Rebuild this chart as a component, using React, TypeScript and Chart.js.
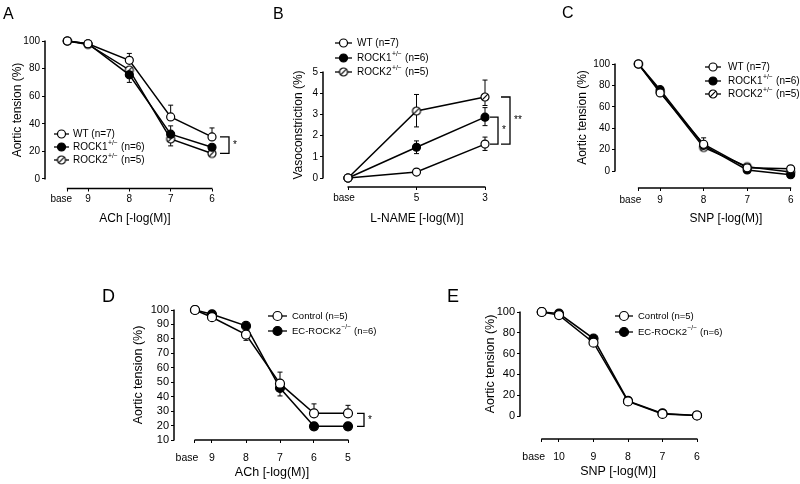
import React, { useEffect, useRef } from 'react';
import { Chart, registerables } from 'chart.js';

Chart.register(...registerables);

const FONT = "'Liberation Sans', Arial, Helvetica, sans-serif";
Chart.defaults.font.family = FONT;
Chart.defaults.color = '#000';

// ---------------- DATA ----------------
// Panel A: ACh, Aortic tension (%)
const aX = [9.5, 9, 8, 7, 6];
const aXLabels = ['base', '9', '8', '7', '6'];
const aYTicks = [0, 20, 40, 60, 80, 100];
const aWT = [100, 98, 86, 45, 30.5];
const aWTUp = [0, 0, 5, 8.5, 6.5];
const aWTDn = [0, 0, 0, 0, 0];
const aR1 = [100, 98, 75.5, 32.5, 23];
const aR1Up = [0, 0, 0, 6, 0];
const aR1Dn = [0, 0, 5.5, 0, 2];
const aR2 = [100, 97.5, 79, 29, 18.5];
const aR2Up = [0, 0, 0, 0, 0];
const aR2Dn = [0, 0, 0, 5, 1.5];

// Panel B: L-NAME, Vasoconstriction (%)
const bX = [7, 5, 3];
const bXLabels = ['base', '5', '3'];
const bYTicks = [0, 1, 2, 3, 4, 5];
const bWT = [0, 0.28, 1.6];
const bWTUp = [0, 0, 0.33];
const bWTDn = [0, 0, 0.3];
const bR1 = [0, 1.45, 2.87];
const bR1Up = [0, 0.3, 0.45];
const bR1Dn = [0, 0.3, 0.4];
const bR2 = [0, 3.16, 3.82];
const bR2Up = [0, 0.78, 0.8];
const bR2Dn = [0, 0.75, 0.4];

// Panel C: SNP, Aortic tension (%)
const cX = [9.5, 9, 8, 7, 6];
const cXLabels = ['base', '9', '8', '7', '6'];
const cYTicks = [0, 20, 40, 60, 80, 100];
const cWT = [100, 73, 25, 3, 2];
const cWTUp = [0, 0, 6, 0, 0];
const cR1 = [100, 76, 24, 1, -3.5];
const cR2 = [100, 74, 22, 4, -1];
const cZero = [0, 0, 0, 0, 0];

// Panel D: ACh, Control vs EC-ROCK2-/-
const dX = [9.5, 9, 8, 7, 6, 5];
const dXLabels = ['base', '9', '8', '7', '6', '5'];
const dYTicks = [10, 20, 30, 40, 50, 60, 70, 80, 90, 100];
const dCtrl = [100, 95, 83, 49, 28.5, 28.5];
const dCtrlUp = [0, 0, 0, 8, 6.5, 5.5];
const dCtrlDn = [0, 0, 4, 0, 0, 0];
const dEC = [100, 97, 89, 46, 19.5, 19.5];
const dECUp = [0, 0, 0, 0, 0, 0];
const dECDn = [0, 0, 0, 5.5, 2.5, 2.5];

// Panel E: SNP, Control vs EC-ROCK2-/-
const eX = [10.5, 10, 9, 8, 7, 6];
const eXLabels = ['base', '10', '9', '8', '7', '6'];
const eYTicks = [0, 20, 40, 60, 80, 100];
const eCtrl = [100, 97, 70.5, 14, 2, 0.5];
const eCtrlDn = [0, 0, 2.5, 0, 0, 0];
const eEC = [100, 98.5, 74.5, 14.5, 2.5, 0.5];
const eZero = [0, 0, 0, 0, 0, 0];

const nameWT = 'WT (n=7)';
const nameR1 = 'ROCK1^{+/\u2212} (n=6)';
const nameR2 = 'ROCK2^{+/\u2212} (n=5)';
const nameCtrl = 'Control (n=5)';
const nameEC = 'EC-ROCK2^{\u2212/\u2212} (n=6)';

// ---------------- TYPES ----------------
type Marker = 'open' | 'filled' | 'hatch';
type Series = { name: string; values: number[]; up: number[]; down: number[]; marker: Marker };
type Bracket = { at: number; from: number; to: number; dx: number; arm: number; label: string };
type Panel = {
  letter: string; letterX: number; letterY: number; letterSize: number;
  left: number; top: number; width: number; height: number;
  areaL: number; areaR: number; areaB: number;
  xMap: number[]; yMap: number[];
  xVals: number[]; xLabels: string[]; yTicks: number[]; baseShift: number;
  xTitle: string; yTitle: string; xTitleY: number; yTitleX: number; xLabelY: number;
  yTickSize: number; xTickSize: number; titleSize: number; legendSize: number;
  legendX: number; legendLen: number; legendTextX: number; legendY: number[];
  pointRadius: number;
  series: Series[]; brackets: Bracket[];
};

const panels: Panel[] = [
  {
    letter: 'A', letterX: 3, letterY: 18.5, letterSize: 16,
    left: 0, top: 0, width: 262, height: 240,
    areaL: 45, areaR: 225, areaB: 188.5,
    xMap: [9, 88, 6, 212], yMap: [100, 41, 0, 179],
    xVals: aX, xLabels: aXLabels, yTicks: aYTicks, baseShift: -6,
    xTitle: 'ACh [-log(M)]', yTitle: 'Aortic tension (%)', xTitleY: 219, yTitleX: 18, xLabelY: 199,
    yTickSize: 10, xTickSize: 10, titleSize: 12, legendSize: 10,
    legendX: 54, legendLen: 15, legendTextX: 73, legendY: [134, 147, 160],
    pointRadius: 4,
    series: [
      { name: nameWT, values: aWT, up: aWTUp, down: aWTDn, marker: 'open' },
      { name: nameR1, values: aR1, up: aR1Up, down: aR1Dn, marker: 'filled' },
      { name: nameR2, values: aR2, up: aR2Up, down: aR2Dn, marker: 'hatch' },
    ],
    brackets: [{ at: 4, from: 0, to: 2, dx: 17, arm: 9, label: '*' }],
  },
  {
    letter: 'B', letterX: 273, letterY: 18.5, letterSize: 16,
    left: 262, top: 0, width: 270, height: 240,
    areaL: 323, areaR: 511, areaB: 187,
    xMap: [7, 348, 3, 485], yMap: [5, 72, 0, 178],
    xVals: bX, xLabels: bXLabels, yTicks: bYTicks, baseShift: -4,
    xTitle: 'L-NAME [-log(M)]', yTitle: 'Vasoconstriction (%)', xTitleY: 219, yTitleX: 299, xLabelY: 198,
    yTickSize: 10, xTickSize: 10, titleSize: 12, legendSize: 10,
    legendX: 335, legendLen: 17, legendTextX: 357, legendY: [43, 58, 72],
    pointRadius: 4,
    series: [
      { name: nameWT, values: bWT, up: bWTUp, down: bWTDn, marker: 'open' },
      { name: nameR1, values: bR1, up: bR1Up, down: bR1Dn, marker: 'filled' },
      { name: nameR2, values: bR2, up: bR2Up, down: bR2Dn, marker: 'hatch' },
    ],
    brackets: [
      { at: 2, from: 1, to: 0, dx: 13, arm: 8, label: '*' },
      { at: 2, from: 2, to: 0, dx: 25, arm: 9, label: '**' },
    ],
  },
  {
    letter: 'C', letterX: 562, letterY: 17.5, letterSize: 16,
    left: 532, top: 0, width: 310, height: 240,
    areaL: 615, areaR: 841, areaB: 188,
    xMap: [9, 661, 6, 794], yMap: [100, 64, 0, 171],
    xVals: cX, xLabels: cXLabels, yTicks: cYTicks, baseShift: -8,
    xTitle: 'SNP [-log(M)]', yTitle: 'Aortic tension (%)', xTitleY: 219, yTitleX: 583, xLabelY: 200,
    yTickSize: 10, xTickSize: 10, titleSize: 12, legendSize: 10,
    legendX: 705, legendLen: 16, legendTextX: 728, legendY: [67, 81, 94],
    pointRadius: 4,
    series: [
      { name: nameWT, values: cWT, up: cWTUp, down: cZero, marker: 'open' },
      { name: nameR1, values: cR1, up: cZero, down: cZero, marker: 'filled' },
      { name: nameR2, values: cR2, up: cZero, down: cZero, marker: 'hatch' },
    ],
    brackets: [],
  },
  {
    letter: 'D', letterX: 102, letterY: 302, letterSize: 18,
    left: 80, top: 270, width: 310, height: 214,
    areaL: 174, areaR: 370, areaB: 440,
    xMap: [9, 212, 5, 348], yMap: [100, 310, 10, 440],
    xVals: dX, xLabels: dXLabels, yTicks: dYTicks, baseShift: -8,
    xTitle: 'ACh [-log(M)]', yTitle: 'Aortic tension (%)', xTitleY: 473, yTitleX: 139, xLabelY: 458,
    yTickSize: 11, xTickSize: 10.5, titleSize: 12.5, legendSize: 9.5,
    legendX: 268, legendLen: 19, legendTextX: 292, legendY: [316, 331],
    pointRadius: 4.5,
    series: [
      { name: nameCtrl, values: dCtrl, up: dCtrlUp, down: dCtrlDn, marker: 'open' },
      { name: nameEC, values: dEC, up: dECUp, down: dECDn, marker: 'filled' },
    ],
    brackets: [{ at: 5, from: 0, to: 1, dx: 16, arm: 7, label: '*' }],
  },
  {
    letter: 'E', letterX: 447, letterY: 302, letterSize: 18,
    left: 440, top: 270, width: 300, height: 214,
    areaL: 520, areaR: 716, areaB: 439,
    xMap: [10, 559, 6, 697], yMap: [100, 312, 0, 416],
    xVals: eX, xLabels: eXLabels, yTicks: eYTicks, baseShift: -8,
    xTitle: 'SNP [-log(M)]', yTitle: 'Aortic tension (%)', xTitleY: 472, yTitleX: 491, xLabelY: 457,
    yTickSize: 11, xTickSize: 10.5, titleSize: 12.5, legendSize: 9.5,
    legendX: 615, legendLen: 18, legendTextX: 638, legendY: [316, 332],
    pointRadius: 4.5,
    series: [
      { name: nameCtrl, values: eCtrl, up: eZero, down: eCtrlDn, marker: 'open' },
      { name: nameEC, values: eEC, up: eZero, down: eZero, marker: 'filled' },
    ],
    brackets: [],
  },
];

// ---------------- HELPERS ----------------
let hatchCanvas: HTMLCanvasElement | null = null;
function getHatch(r: number): HTMLCanvasElement {
  if (hatchCanvas) return hatchCanvas;
  const c = document.createElement('canvas');
  const s = Math.ceil(r * 2 + 4);
  c.width = s; c.height = s;
  const g = c.getContext('2d') as CanvasRenderingContext2D;
  const cx = s / 2, cy = s / 2;
  g.beginPath(); g.arc(cx, cy, r, 0, Math.PI * 2);
  g.fillStyle = '#fff'; g.fill();
  g.save();
  g.beginPath(); g.arc(cx, cy, r, 0, Math.PI * 2); g.clip();
  g.strokeStyle = '#000';
  g.lineWidth = 0.8;
  for (const o of [-2.6, 2.6]) {
    g.beginPath();
    g.moveTo(cx - r + o, cy + r + o);
    g.lineTo(cx + r + o, cy - r + o);
    g.stroke();
  }
  g.lineWidth = 1.2;
  g.beginPath();
  g.moveTo(cx - r, cy + r);
  g.lineTo(cx + r, cy - r);
  g.stroke();
  g.restore();
  g.beginPath(); g.arc(cx, cy, r, 0, Math.PI * 2);
  g.strokeStyle = '#000'; g.lineWidth = 1.2; g.stroke();
  hatchCanvas = c;
  return c;
}

function fontStr(size: number) {
  return `${size}px ${FONT}`;
}

function drawRich(ctx: CanvasRenderingContext2D, text: string, x: number, y: number, size: number) {
  ctx.textBaseline = 'middle';
  ctx.textAlign = 'left';
  ctx.fillStyle = '#000';
  const m = text.match(/^(.*?)\^\{(.*?)\}(.*)$/);
  if (!m) {
    ctx.font = fontStr(size);
    ctx.fillText(text, x, y);
    return;
  }
  ctx.font = fontStr(size);
  ctx.fillText(m[1], x, y);
  let cx = x + ctx.measureText(m[1]).width + 0.5;
  ctx.font = fontStr(size * 0.68);
  ctx.fillText(m[2], cx, y - size * 0.38);
  cx += ctx.measureText(m[2]).width + 0.5;
  ctx.font = fontStr(size);
  ctx.fillText(m[3], cx, y);
}

function drawMarker(ctx: CanvasRenderingContext2D, marker: Marker, x: number, y: number, r: number) {
  if (marker === 'hatch') {
    const h = getHatch(r);
    ctx.drawImage(h, x - h.width / 2, y - h.height / 2);
    return;
  }
  ctx.beginPath();
  ctx.arc(x, y, r, 0, Math.PI * 2);
  ctx.fillStyle = marker === 'filled' ? '#000' : '#fff';
  ctx.fill();
  ctx.lineWidth = 1.2;
  ctx.strokeStyle = '#000';
  ctx.stroke();
}

function decorPlugin(p: Panel) {
  return {
    id: 'decor' + p.letter,
    beforeDatasetsDraw(chart: any) {
      const ctx: CanvasRenderingContext2D = chart.ctx;
      const xs = chart.scales.x, ys = chart.scales.y;
      const area = chart.chartArea;
      ctx.save();
      ctx.strokeStyle = '#000';
      ctx.lineWidth = 1.5;
      // y axis line (offset axis)
      const yLo = Math.min(...p.yTicks), yHi = Math.max(...p.yTicks);
      ctx.beginPath();
      ctx.moveTo(area.left, ys.getPixelForValue(yLo) + 0.5);
      ctx.lineTo(area.left, ys.getPixelForValue(yHi) - 0.5);
      ctx.stroke();
      // x axis line
      ctx.beginPath();
      ctx.moveTo(xs.getPixelForValue(p.xVals[0]) - 0.5, area.bottom);
      ctx.lineTo(xs.getPixelForValue(p.xVals[p.xVals.length - 1]) + 0.5, area.bottom);
      ctx.stroke();
      // "base" tick label (sits slightly left of its tick, as in the original)
      ctx.fillStyle = '#000';
      ctx.font = fontStr(p.xTickSize);
      ctx.textAlign = 'center';
      ctx.textBaseline = 'middle';
      ctx.fillText(p.xLabels[0], xs.getPixelForValue(p.xVals[0]) + p.baseShift, p.xLabelY - p.top);
      // error bars
      ctx.lineWidth = 1;
      p.series.forEach((s) => {
        s.values.forEach((v, i) => {
          const px = xs.getPixelForValue(p.xVals[i]);
          const segs: number[] = [];
          if (s.up[i] > 0) segs.push(v + s.up[i]);
          if (s.down[i] > 0) segs.push(v - s.down[i]);
          segs.forEach((end) => {
            const y0 = ys.getPixelForValue(v);
            const y1 = ys.getPixelForValue(end);
            ctx.beginPath();
            ctx.moveTo(px, y0);
            ctx.lineTo(px, y1);
            ctx.moveTo(px - 2.5, y1);
            ctx.lineTo(px + 2.5, y1);
            ctx.stroke();
          });
        });
      });
      ctx.restore();
    },
    afterDatasetsDraw(chart: any) {
      const ctx: CanvasRenderingContext2D = chart.ctx;
      const xs = chart.scales.x, ys = chart.scales.y;
      ctx.save();
      // brackets
      p.brackets.forEach((b) => {
        const bx = xs.getPixelForValue(p.xVals[b.at]) + b.dx;
        const y1 = ys.getPixelForValue(p.series[b.from].values[b.at]);
        const y2 = ys.getPixelForValue(p.series[b.to].values[b.at]);
        ctx.strokeStyle = '#000';
        ctx.lineWidth = 1.3;
        ctx.beginPath();
        ctx.moveTo(bx - b.arm, y1);
        ctx.lineTo(bx, y1);
        ctx.lineTo(bx, y2);
        ctx.lineTo(bx - b.arm, y2);
        ctx.stroke();
        ctx.fillStyle = '#000';
        ctx.font = fontStr(10);
        ctx.textAlign = 'left';
        ctx.textBaseline = 'middle';
        ctx.fillText(b.label, bx + 4, (y1 + y2) / 2);
      });
      // legend
      p.series.forEach((s, i) => {
        const ly = p.legendY[i] - p.top;
        const lx = p.legendX - p.left;
        ctx.strokeStyle = '#000';
        ctx.lineWidth = 1.3;
        ctx.beginPath();
        ctx.moveTo(lx, ly);
        ctx.lineTo(lx + p.legendLen, ly);
        ctx.stroke();
        drawMarker(ctx, s.marker, lx + p.legendLen / 2, ly, p.pointRadius);
        drawRich(ctx, s.name, p.legendTextX - p.left, ly, p.legendSize);
      });
      // panel letter
      ctx.fillStyle = '#000';
      ctx.font = fontStr(p.letterSize);
      ctx.textAlign = 'left';
      ctx.textBaseline = 'alphabetic';
      ctx.fillText(p.letter, p.letterX - p.left, p.letterY - p.top);
      ctx.restore();
    },
  };
}

function buildConfig(p: Panel): any {
  const [xv1, xp1, xv2, xp2] = p.xMap;
  const sx = (xp2 - xp1) / (xv2 - xv1);
  const xAt = (px: number) => xv1 + (px - xp1) / sx;
  const vl = xAt(p.areaL), vr = xAt(p.areaR);
  const [yv1, yp1, yv2, yp2] = p.yMap;
  const sy = (yp2 - yp1) / (yv2 - yv1);
  const yPix = (v: number) => yp1 + (v - yv1) * sy;
  const yAt = (px: number) => yv1 + (px - yp1) / sy;
  const yLo = Math.min(...p.yTicks), yHi = Math.max(...p.yTicks);
  const areaT = yPix(yHi) - (p.areaB - yPix(yLo));
  const yMin = yAt(p.areaB), yMax = yAt(areaT);

  const titleLH = p.titleSize * 1.2;
  const padLeft = p.yTitleX - p.left - titleLH / 2 - 2;
  const yW = p.areaL - p.left - padLeft;
  const xH = p.top + p.height - p.areaB;
  const xTickPad = p.xLabelY - p.areaB - 3 - (p.xTickSize * 1.2) / 2;
  const xTitlePad = p.top + p.height - p.xTitleY - titleLH / 2;

  const hatch = getHatch(p.pointRadius);

  const datasets = p.series.map((s) => ({
    label: s.name,
    data: p.xVals.map((x, i) => ({ x, y: s.values[i] })),
    borderColor: '#000',
    borderWidth: 1.5,
    pointStyle: s.marker === 'hatch' ? hatch : 'circle',
    pointRadius: p.pointRadius,
    pointHoverRadius: p.pointRadius,
    pointBackgroundColor: s.marker === 'filled' ? '#000' : '#fff',
    pointBorderColor: '#000',
    pointBorderWidth: 1.2,
    tension: 0,
    fill: false,
    clip: false,
  }));

  return {
    type: 'line',
    data: { datasets },
    options: {
      animation: false,
      responsive: false,
      maintainAspectRatio: false,
      events: [],
      layout: {
        padding: {
          left: padLeft,
          top: areaT - p.top,
          right: p.left + p.width - p.areaR,
          bottom: 0,
        },
      },
      plugins: { legend: { display: false }, tooltip: { enabled: false }, title: { display: false } },
      scales: {
        x: {
          type: 'linear',
          bounds: 'data',
          min: Math.min(vl, vr),
          max: Math.max(vl, vr),
          reverse: vl > vr,
          afterBuildTicks: (s: any) => {
            s.ticks = p.xVals.map((v) => ({ value: v }));
          },
          afterFit: (s: any) => {
            s.height = xH;
          },
          ticks: {
            autoSkip: false,
            maxRotation: 0,
            minRotation: 0,
            padding: xTickPad,
            color: '#000',
            font: { size: p.xTickSize, family: FONT },
            // the first ("base") label is drawn by the panel plugin, shifted left
            callback: (_v: any, i: number) => (i === 0 ? '' : p.xLabels[i]),
          },
          grid: { drawOnChartArea: false, drawTicks: true, tickLength: 3, color: '#000', lineWidth: 1 },
          border: { display: false },
          title: {
            display: true,
            text: p.xTitle,
            color: '#000',
            font: { size: p.titleSize, family: FONT },
            padding: { top: 0, bottom: xTitlePad },
          },
        },
        y: {
          type: 'linear',
          bounds: 'data',
          min: yMin,
          max: yMax,
          afterBuildTicks: (s: any) => {
            s.ticks = p.yTicks.map((v) => ({ value: v }));
          },
          afterFit: (s: any) => {
            s.width = yW;
          },
          ticks: {
            autoSkip: false,
            padding: 2,
            color: '#000',
            font: { size: p.yTickSize, family: FONT },
            callback: (v: any) => String(v),
          },
          grid: { drawOnChartArea: false, drawTicks: true, tickLength: 3, color: '#000', lineWidth: 1 },
          border: { display: false },
          title: {
            display: true,
            text: p.yTitle,
            color: '#000',
            font: { size: p.titleSize, family: FONT },
            padding: { top: 2, bottom: 0 },
          },
        },
      },
    },
    plugins: [decorPlugin(p)],
  };
}

function PanelChart({ p }: { p: Panel }) {
  const ref = useRef<HTMLCanvasElement | null>(null);
  useEffect(() => {
    if (!ref.current) return;
    const chart = new Chart(ref.current, buildConfig(p));
    return () => chart.destroy();
  }, [p]);
  return (
    <canvas
      ref={ref}
      width={p.width}
      height={p.height}
      style={{ position: 'absolute', left: p.left, top: p.top, width: p.width, height: p.height }}
    />
  );
}

export default function App() {
  return (
    <div
      style={{
        position: 'fixed',
        left: 0,
        top: 0,
        width: 800,
        height: 484,
        overflow: 'hidden',
        background: '#fff',
      }}
    >
      {panels.map((p) => (
        <PanelChart key={p.letter} p={p} />
      ))}
    </div>
  );
}
